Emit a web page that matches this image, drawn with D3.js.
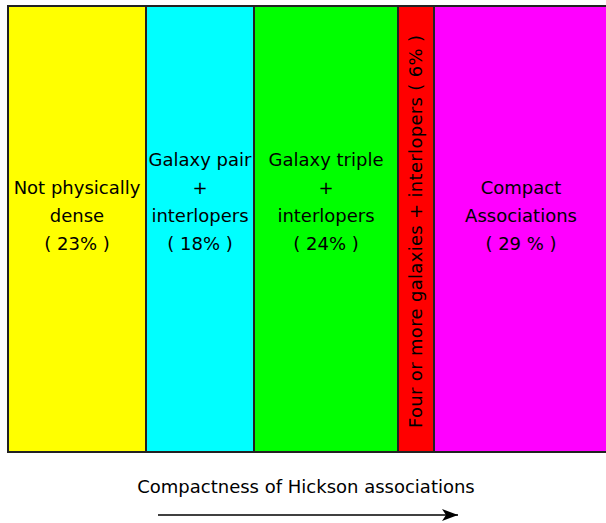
<!DOCTYPE html>
<html><head><meta charset="utf-8">
<script src="https://cdn.jsdelivr.net/npm/d3@7"></script>
<style>body{margin:0;background:#fff}svg{display:block}text{font-family:"DejaVu Sans",sans-serif;fill:#000}</style>
</head><body>
<script>
const categories = ["Not physically dense","Galaxy pair + interlopers","Galaxy triple + interlopers","Four or more galaxies + interlopers","Compact Associations"];
const percents = [23, 18, 24, 6, 29];
const colors = ["#ffff00","#00ffff","#00ff00","#ff0000","#ff00ff"];
const labelLines = [
  ["Not physically","dense","( 23% )"],
  ["Galaxy pair","+","interlopers","( 18% )"],
  ["Galaxy triple","+","interlopers","( 24% )"],
  ["Four or more galaxies + interlopers ( 6% )"],
  ["Compact","Associations","( 29 % )"]
];
const xTitle = "Compactness of Hickson associations";

const W = 606, H = 523;
const svg = d3.select("body").append("svg").attr("width", W).attr("height", H);
const x = d3.scaleLinear().domain([0, 100]).range([8, 608]);
const y0 = 6, y1 = 452;
const starts = d3.cumsum([0, ...percents]).slice(0, percents.length);

const g = svg.append("g");
g.selectAll("rect").data(percents).join("rect")
  .attr("x", (d, i) => x(starts[i]))
  .attr("y", y0)
  .attr("width", (d, i) => x(starts[i] + d) - x(starts[i]))
  .attr("height", y1 - y0)
  .attr("fill", (d, i) => colors[i])
  .attr("stroke", "#222")
  .attr("stroke-width", 2);

const lineH = 28, lastBase = 250;
percents.forEach((d, i) => {
  const cx = (x(starts[i]) + x(starts[i] + d)) / 2;
  const lines = labelLines[i];
  if (lines.length === 1) {
    svg.append("text")
      .attr("transform", `translate(${cx + 6},231.5) rotate(-90)`)
      .attr("text-anchor", "middle")
      .attr("font-size", 18)
      .attr("textLength", 393)
      .attr("lengthAdjust", "spacing")
      .text(lines[0]);
  } else {
    lines.forEach((t, j) => {
      svg.append("text")
        .attr("x", cx)
        .attr("y", lastBase - (lines.length - 1 - j) * lineH)
        .attr("text-anchor", "middle")
        .attr("font-size", 18)
        .text(t);
    });
  }
});

svg.append("text").attr("x", 306).attr("y", 493).attr("text-anchor", "middle")
  .attr("font-size", 18).text(xTitle);

svg.append("defs").append("marker").attr("id", "ah")
  .attr("viewBox", "0 0 16 12").attr("refX", 16).attr("refY", 6)
  .attr("markerWidth", 16).attr("markerHeight", 12).attr("markerUnits", "userSpaceOnUse")
  .attr("orient", "auto")
  .append("path").attr("d", "M0,0 L16,6 L0,12 L4,6 Z").attr("fill", "#000");
svg.append("line").attr("x1", 158).attr("x2", 458).attr("y1", 515).attr("y2", 515)
  .attr("stroke", "#000").attr("stroke-width", 1.5).attr("marker-end", "url(#ah)");
</script>
</body></html>
